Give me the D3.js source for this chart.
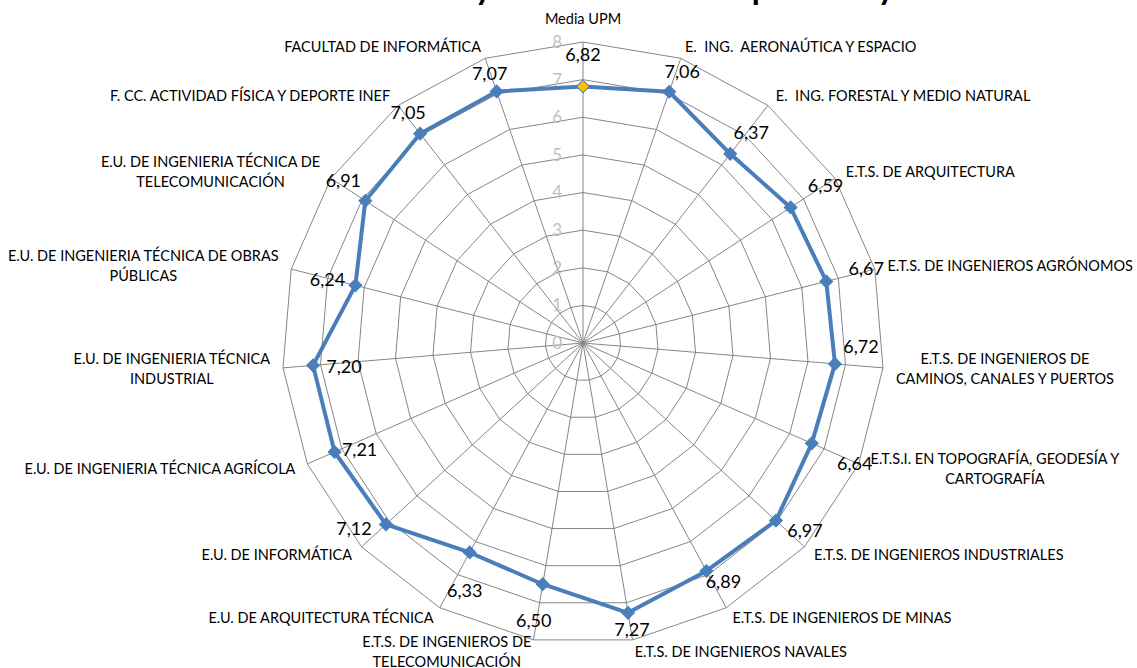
<!DOCTYPE html>
<html><head><meta charset="utf-8">
<script src="https://cdn.jsdelivr.net/npm/d3@7"></script>
<style>body{margin:0;background:#fff} svg{display:block} text{white-space:pre}</style>
</head><body>
<svg id="c" width="1137" height="668"></svg>
<script>
const titleText = "Satisfacción total y valoración media por área y centro";
const categories = [
  "Media UPM",
  "E.  ING.  AERONAÚTICA Y ESPACIO",
  "E.  ING. FORESTAL Y MEDIO NATURAL",
  "E.T.S. DE ARQUITECTURA",
  "E.T.S. DE INGENIEROS AGRÓNOMOS",
  "E.T.S. DE INGENIEROS DE\nCAMINOS, CANALES Y PUERTOS",
  "E.T.S.I. EN TOPOGRAFÍA, GEODESÍA Y\nCARTOGRAFÍA",
  "E.T.S. DE INGENIEROS INDUSTRIALES",
  "E.T.S. DE INGENIEROS DE MINAS",
  "E.T.S. DE INGENIEROS NAVALES",
  "E.T.S. DE INGENIEROS DE\nTELECOMUNICACIÓN",
  "E.U. DE ARQUITECTURA TÉCNICA",
  "E.U. DE INFORMÁTICA",
  "E.U. DE INGENIERIA TÉCNICA AGRÍCOLA",
  "E.U. DE INGENIERIA TÉCNICA\nINDUSTRIAL",
  "E.U. DE INGENIERIA TÉCNICA DE OBRAS\nPÚBLICAS",
  "E.U. DE INGENIERIA TÉCNICA DE\nTELECOMUNICACIÓN",
  "F. CC. ACTIVIDAD FÍSICA Y DEPORTE INEF",
  "FACULTAD DE INFORMÁTICA"
];
const values = [6.82, 7.06, 6.37, 6.59, 6.67, 6.72, 6.64, 6.97, 6.89, 7.27, 6.50, 6.33, 7.12, 7.21, 7.20, 6.24, 6.91, 7.05, 7.07];
const tickValues = [0, 1, 2, 3, 4, 5, 6, 7, 8];
// layout nudges for data labels (dx, dy from the point)
const labelNudge = [[0,-32],[13,-20],[21,-21],[35,-22],[40,-13],[26,-17],[43,20],[29,10],[17,11],[4,17],[-9,36],[-5,38],[-32,4],[25,-2],[31,1],[-28,-6],[-22,-20],[-12,-21],[-7,-18]];

const cx = 583, cy = 343, R = 301;
const FONT = "Lato, 'Open Sans', sans-serif";
const svg = d3.select('#c');
const n = categories.length;
const rScale = d3.scaleLinear().domain([0, 8]).range([0, R]);
const aScale = d3.scaleLinear().domain([0, n]).range([0, 2 * Math.PI]);
const pt = (i, v) => [rScale(v) * Math.sin(aScale(i)), -rScale(v) * Math.cos(aScale(i))];

// title (clipped at the top like the reference)
const title = svg.append('text').attr('font-family', FONT).attr('font-weight', 'bold')
  .attr('font-size', 30).attr('x', 0).attr('y', 0).attr('fill', '#000').text(titleText);
{
  const node = title.node();
  const iy = titleText.indexOf('y'), ip = titleText.indexOf('p');
  const mid = k => { const e = node.getExtentOfChar(k); return e.x + e.width / 2; };
  const d = mid(ip) - mid(iy);
  title.attr('font-size', 30 * 278 / d);
  title.attr('x', 483 - mid(iy));
  title.attr('y', 0);
}

const g = svg.append('g').attr('transform', `translate(${cx},${cy})`);

const ring = d3.lineRadial().angle((d, i) => aScale(i)).radius(d => rScale(d)).curve(d3.curveLinearClosed);
g.selectAll('path.ring').data(tickValues.slice(1)).join('path').attr('class', 'ring')
  .attr('d', t => ring(categories.map(() => t)))
  .attr('fill', 'none').attr('stroke', '#868686').attr('stroke-width', 1);
g.selectAll('line.spoke').data(categories).join('line').attr('class', 'spoke')
  .attr('x1', 0).attr('y1', 0)
  .attr('x2', (d, i) => pt(i, 8)[0]).attr('y2', (d, i) => pt(i, 8)[1])
  .attr('stroke', '#868686').attr('stroke-width', 1);

// axis tick labels
g.selectAll('text.tick').data(tickValues).join('text').attr('class', 'tick')
  .attr('x', -21).attr('y', d => -rScale(d)).attr('dy', '0.35em')
  .attr('text-anchor', 'end').attr('fill', '#bfbfbf')
  .attr('font-family', FONT).attr('font-size', 17).text(d => d);

// series
const line = d3.lineRadial().angle((d, i) => aScale(i)).radius(d => rScale(d)).curve(d3.curveLinearClosed);
g.append('path').attr('d', line(values)).attr('fill', 'none')
  .attr('stroke', '#4a7ebb').attr('stroke-width', 4).attr('stroke-linejoin', 'round');
g.selectAll('path.mk').data(values).join('path').attr('class', 'mk')
  .attr('d', d3.symbol(d3.symbolSquare, 82))
  .attr('transform', (d, i) => `translate(${pt(i, d)}) rotate(45)`)
  .attr('fill', (d, i) => i === 0 ? '#ffc000' : '#4a7ebb')
  .attr('stroke', '#4a7ebb').attr('stroke-width', 1);

// data labels
g.selectAll('text.dl').data(values).join('text').attr('class', 'dl')
  .attr('x', (d, i) => pt(i, d)[0] + labelNudge[i][0])
  .attr('y', (d, i) => pt(i, d)[1] + labelNudge[i][1])
  .attr('dy', '0.35em').attr('text-anchor', 'middle')
  .attr('font-family', FONT).attr('font-size', 18).attr('fill', '#000')
  .text(d => d.toFixed(2).replace('.', ','));

// category labels
const LH = 20;
categories.forEach((c, i) => {
  const th = aScale(i), s = Math.sin(th), co = Math.cos(th);
  const v = pt(i, 8);
  const lines = c.split('\n');
  const tg = g.append('g');
  const ts = lines.map(l => tg.append('text').attr('font-family', FONT).attr('font-size', 14.5)
    .attr('fill', '#000').attr('text-anchor', 'middle').attr('dy', '0.35em').text(l));
  const bw = d3.max(ts, t => t.node().getComputedTextLength());
  let ax, ay, left;
  if (Math.abs(s) < 0.05) {
    ax = v[0]; ay = v[1] - co * 23; left = ax - bw / 2;
  } else {
    ax = v[0] + 13 * s; ay = v[1] - 12 * co;
    left = s > 0 ? ax : ax - bw;
  }
  ts.forEach((t, k) => t.attr('x', left + bw / 2).attr('y', ay + (k - (lines.length - 1) / 2) * LH));
});
</script>
</body></html>
